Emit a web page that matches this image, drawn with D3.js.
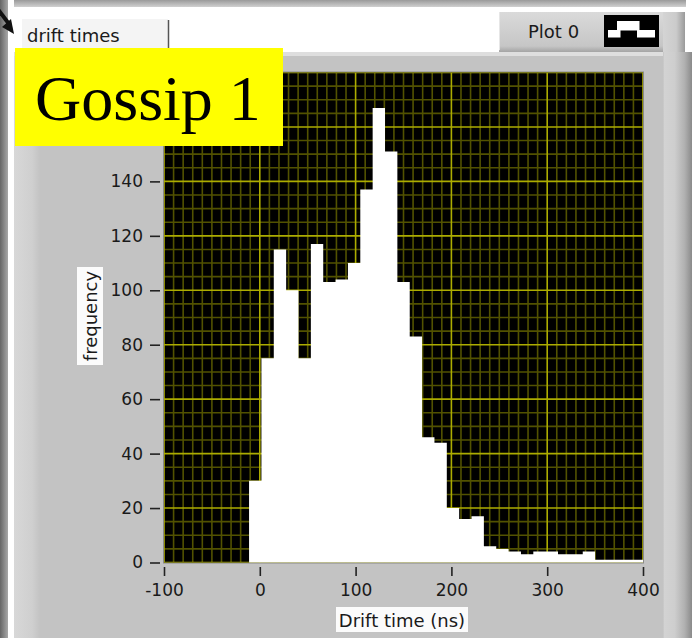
<!DOCTYPE html>
<html>
<head>
<meta charset="utf-8">
<script src="https://cdn.jsdelivr.net/npm/d3@7"></script>
<style>
  body { margin: 0; background: #fff; }
  svg { display: block; }
</style>
</head>
<body>
<script>
// Drift-time histogram (counts per bin), LabVIEW-style waveform graph.
const binStart = -11.2;          // ns, left edge of first bin
const binWidth = 12.9;           // ns
const counts = [30, 75, 115, 100, 75, 117, 103, 104, 110, 137, 167, 151, 103, 83,
                46, 44, 20, 16, 17, 6, 5, 4, 3, 4, 4, 3, 3, 4, 1, 1, 1, 1];
const xTicks = [-100, 0, 100, 200, 300, 400];
const yTicks = [0, 20, 40, 60, 80, 100, 120, 140];
const yMax = 180;
const xTitle = "Drift time (ns)";
const yTitle = "frequency";
const graphName = "drift times";
const plotName = "Plot 0";
const badge = "Gossip 1";

const W = 692, H = 638;
const FONT = "'DejaVu Sans', Verdana, sans-serif";
const svg = d3.select("body").append("svg").attr("width", W).attr("height", H);
const defs = svg.append("defs");

function grad(id, vertical, stops) {
  const g = defs.append("linearGradient").attr("id", id)
    .attr("x1", 0).attr("y1", 0)
    .attr("x2", vertical ? 0 : 1).attr("y2", vertical ? 1 : 0);
  stops.forEach(([o, c]) => g.append("stop").attr("offset", o).attr("stop-color", c));
}
grad("gTop", true, [[0, "#9a9a9a"], [1, "#d0d0d0"]]);
grad("gLeft", false, [[0, "#666"], [1, "#a8a8a8"]]);
grad("gBevelL", false, [[0, "#d8d8d8"], [0.7, "#cfcfcf"], [1, "#c3c3c3"]]);
grad("gRight", false, [[0, "#c3c3c3"], [0.05, "#d3d3d3"], [0.4, "#cecece"], [0.75, "#b0b0b0"], [1, "#8a8a8a"]]);
grad("gLegend", true, [[0, "#dadada"], [0.85, "#c6c6c6"], [1, "#a4a4a4"]]);
grad("gLegendR", false, [[0, "#d4d4d4"], [0.6, "#cbcbcb"], [1, "#9a9a9a"]]);

// ---- panel chrome ----
svg.append("rect").attr("width", W).attr("height", H).attr("fill", "#c3c3c3");
svg.append("rect").attr("x", 8).attr("y", 0).attr("width", W - 8).attr("height", 52).attr("fill", "#fff");
svg.append("rect").attr("x", 14).attr("y", 0).attr("width", 672).attr("height", 7).attr("fill", "url(#gTop)");
svg.append("rect").attr("x", 0).attr("y", 0).attr("width", 8).attr("height", H).attr("fill", "url(#gLeft)");
svg.append("rect").attr("x", 8).attr("y", 7).attr("width", 6).attr("height", H).attr("fill", "#fff");
svg.append("rect").attr("x", 14).attr("y", 52).attr("width", 26).attr("height", H - 52).attr("fill", "url(#gBevelL)");
svg.append("rect").attr("x", 14).attr("y", 52).attr("width", 650).attr("height", 4).attr("fill", "#dedede");
svg.append("rect").attr("x", 663).attr("y", 52).attr("width", 29).attr("height", H - 52).attr("fill", "url(#gRight)");

// graph name label
svg.append("rect").attr("x", 22).attr("y", 19).attr("width", 146).attr("height", 33).attr("fill", "#f4f4f4");
svg.append("line").attr("x1", 168.5).attr("x2", 168.5).attr("y1", 20).attr("y2", 50)
  .attr("stroke", "#555").attr("stroke-width", 1.5);
svg.append("text").attr("x", 27).attr("y", 41.5).attr("font-family", FONT).attr("font-size", 18)
  .attr("fill", "#1a1a1a").text(graphName);

// plot legend
svg.append("rect").attr("x", 499).attr("y", 12).attr("width", 164).attr("height", 40).attr("fill", "url(#gLegend)");
svg.append("rect").attr("x", 663).attr("y", 12).attr("width", 22).attr("height", 40).attr("fill", "url(#gLegendR)");
svg.append("line").attr("x1", 499.5).attr("x2", 499.5).attr("y1", 12).attr("y2", 50).attr("stroke", "#e6e6e6");
svg.append("text").attr("x", 528).attr("y", 37.5).attr("font-family", FONT).attr("font-size", 18)
  .attr("fill", "#1a1a1a").text(plotName);
const icon = svg.append("g");
icon.append("rect").attr("x", 604).attr("y", 15).attr("width", 55).attr("height", 32).attr("fill", "#000");
icon.append("rect").attr("x", 608).attr("y", 30).attr("width", 12.5).attr("height", 7.5).attr("fill", "#fff");
icon.append("rect").attr("x", 617).attr("y", 21).attr("width", 22.5).attr("height", 9.5).attr("fill", "#fff");
icon.append("rect").attr("x", 637).attr("y", 30).attr("width", 18).attr("height", 7.5).attr("fill", "#fff");

// pointer arrow at the left edge
svg.append("path").attr("d", "M-3,8 L9,24").attr("stroke", "#111").attr("stroke-width", 4);
svg.append("path").attr("d", "M14,34 L2,27 L11,19 Z").attr("fill", "#111");

// ---- plot ----
const plot = { left: 164, right: 643, top: 72.5, bottom: 562.5 };
const x = d3.scaleLinear().domain([xTicks[0], xTicks[xTicks.length - 1]]).range([plot.left, plot.right]);
const y = d3.scaleLinear().domain([0, yMax]).range([plot.bottom, plot.top]);

defs.append("clipPath").attr("id", "clipPlot").append("rect")
  .attr("x", plot.left).attr("y", plot.top)
  .attr("width", plot.right - plot.left).attr("height", plot.bottom - plot.top);

svg.append("rect").attr("x", plot.left - 0.5).attr("y", plot.top - 0.5)
  .attr("width", plot.right - plot.left + 1).attr("height", plot.bottom - plot.top + 1)
  .attr("fill", "#000").attr("stroke", "#8a8a8a");

const grid = svg.append("g").attr("clip-path", "url(#clipPlot)");
const xMajor = d3.range(xTicks[0], xTicks[xTicks.length - 1] + 1, 100);
const yMajor = d3.range(0, yMax + 1, 20);
const xMinor = d3.range(-100, 401, 10).filter(v => v % 100 !== 0);
const yMinor = d3.range(0, yMax + 1, 5).filter(v => v % 20 !== 0);
grid.selectAll(".xm").data(xMinor).join("line")
  .attr("x1", d => x(d)).attr("x2", d => x(d)).attr("y1", plot.top).attr("y2", plot.bottom)
  .attr("stroke", "#525200").attr("stroke-width", 1.6);
grid.selectAll(".ym").data(yMinor).join("line")
  .attr("x1", plot.left).attr("x2", plot.right).attr("y1", d => y(d)).attr("y2", d => y(d))
  .attr("stroke", "#525200").attr("stroke-width", 1.6);
grid.selectAll(".xM").data(xMajor).join("line")
  .attr("x1", d => x(d)).attr("x2", d => x(d)).attr("y1", plot.top).attr("y2", plot.bottom)
  .attr("stroke", "#acac00").attr("stroke-width", 1.6);
grid.selectAll(".yM").data(yMajor).join("line")
  .attr("x1", plot.left).attr("x2", plot.right).attr("y1", d => y(d)).attr("y2", d => y(d))
  .attr("stroke", "#acac00").attr("stroke-width", 1.6);

// histogram drawn as one stepped filled area
const steps = counts.map((c, i) => ({ t: binStart + i * binWidth, c }));
steps.push({ t: binStart + counts.length * binWidth, c: counts[counts.length - 1] });
const area = d3.area()
  .x(d => x(d.t)).y0(y(0) + 1).y1(d => y(d.c))
  .curve(d3.curveStepAfter);
svg.append("g").attr("clip-path", "url(#clipPlot)")
  .append("path").datum(steps).attr("d", area).attr("fill", "#fff");

// axes
const fmt = d => String(d);   // plain hyphen for negatives
const yAxis = svg.append("g").attr("transform", `translate(160,0)`)
  .call(d3.axisLeft(y).tickValues(yTicks).tickSize(10).tickPadding(7).tickFormat(fmt));
const xAxis = svg.append("g").attr("transform", `translate(0,567)`)
  .call(d3.axisBottom(x).tickValues(xTicks).tickSize(9).tickPadding(8).tickFormat(fmt));
[xAxis, yAxis].forEach(a => {
  a.select(".domain").remove();
  a.selectAll(".tick line").attr("stroke", "#222").attr("stroke-width", 1.6);
  a.selectAll(".tick text").attr("font-family", FONT).attr("font-size", 17).attr("fill", "#1a1a1a");
});

// axis titles
svg.append("rect").attr("x", 336).attr("y", 607).attr("width", 132).attr("height", 25).attr("fill", "#fbfbfb");
svg.append("text").attr("x", 402).attr("y", 627).attr("text-anchor", "middle")
  .attr("font-family", FONT).attr("font-size", 18).attr("fill", "#1a1a1a").text(xTitle);
svg.append("rect").attr("x", 77).attr("y", 267).attr("width", 26).attr("height", 98).attr("fill", "#fbfbfb");
svg.append("text").attr("transform", "translate(97,316) rotate(-90)").attr("text-anchor", "middle")
  .attr("font-family", FONT).attr("font-size", 18).attr("fill", "#1a1a1a").text(yTitle);

// title badge
svg.append("rect").attr("x", 15).attr("y", 48).attr("width", 268).attr("height", 98).attr("fill", "#ffff00");
svg.append("text").attr("x", 35).attr("y", 120)
  .attr("font-family", "'Liberation Serif', 'Times New Roman', serif").attr("font-size", 64)
  .attr("fill", "#000").text(badge);
</script>
</body>
</html>
